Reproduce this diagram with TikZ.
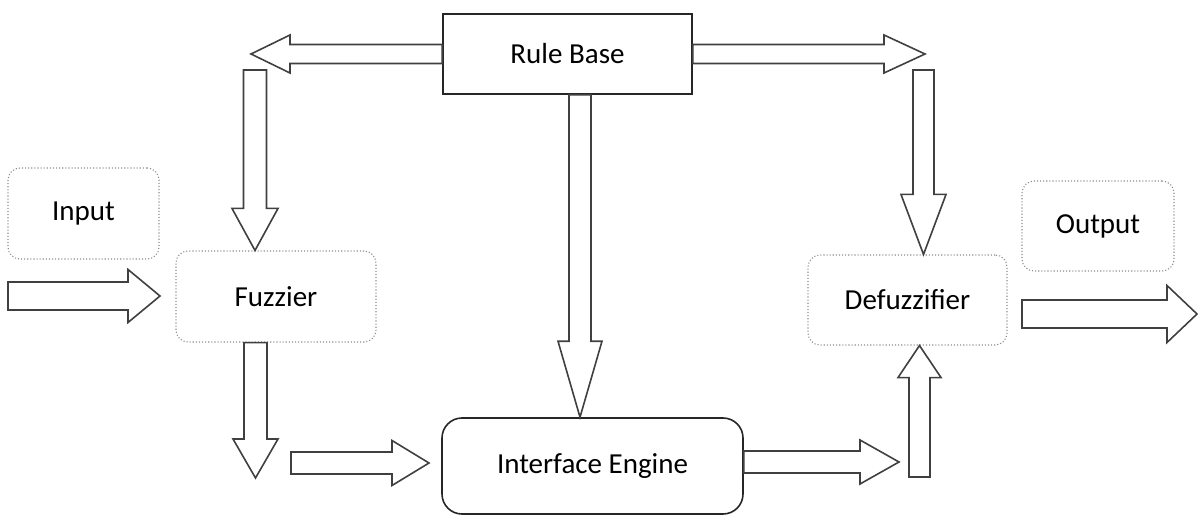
\documentclass[tikz,border=0pt]{standalone}
\usepackage{fontspec}
\setmainfont{Carlito}
\usetikzlibrary{calc}

\tikzset{
	rulebox/.style={draw=black!85, line width=1.6pt, rectangle, inner sep=0pt},
	softbox/.style={draw=black!45, dotted, line width=1.1pt, rounded corners=12pt, inner sep=0pt},
	enginebox/.style={draw=black!85, line width=1.6pt, rounded corners=20pt, inner sep=0pt},
	blockarrow/.style={draw=black!75, line width=1.6pt, line join=miter, fill=white}
}

% hollow block arrow: from, tip, shaft half width, head half width, head length
\newcommand{\hollowarrow}[5]{%
	\coordinate (ha) at ($(#2)!#5!(#1)$);
	\draw[blockarrow] ($(#1)!#3!90:(#2)$) -- ($(ha)!#3!90:(#2)$)
		-- ($(ha)!#4!90:(#2)$) -- (#2) -- ($(ha)!#4!-90:(#2)$)
		-- ($(ha)!#3!-90:(#2)$) -- ($(#1)!#3!-90:(#2)$) -- cycle;
}

\begin{document}
\begin{tikzpicture}[x=1pt, y=-1pt, font=\fontsize{29}{34}\selectfont]
	\useasboundingbox (0,0) rectangle (1198,518);

	\node[rulebox, minimum width=249pt, minimum height=80pt] (rulebase) at (567.5,54)
		{Rule Base};
	\node[softbox, minimum width=151pt, minimum height=91pt] (input)   at (83.5,213.5)
		{Input};
	\node[softbox, minimum width=200pt, minimum height=91pt] (fuzzier) at (276,296.5)
		{Fuzzier};
	\node[enginebox, minimum width=301pt, minimum height=96pt] (engine) at (592.5,466)
		{Interface Engine};
	\node[softbox, minimum width=199pt, minimum height=90pt] (defuzz)  at (907.5,300)
		{Defuzzifier};
	\node[softbox, minimum width=152pt, minimum height=90pt] (output)  at (1098,226)
		{Output};

	\coordinate (leftTip)    at (251,54);
	\coordinate (rightTip)   at (925,54);
	\coordinate (leftTop)    at (255,70);
	\coordinate (rightTop)   at (923.5,70);
	\coordinate (fuzzTip)    at (255.5,478);
	\coordinate (engTail)    at (291,463);
	\coordinate (engTip)     at (429,463);
	\coordinate (outTip)     at (899,462);
	\coordinate (upTail)     at (919.5,477);
	\coordinate (inTail)     at (8,296);
	\coordinate (inTip)      at (160,296);
	\coordinate (resTail)    at (1022,314);
	\coordinate (resTip)     at (1197,314);

	\hollowarrow{rulebase.west}{leftTip}{9.5pt}{19pt}{39pt}
	\hollowarrow{rulebase.east}{rightTip}{9.5pt}{19pt}{41pt}
	\hollowarrow{leftTop}{$(fuzzier.north)+(-21,0)$}{11.5pt}{23pt}{42pt}
	\hollowarrow{$(fuzzier.south)+(-20.5,0)$}{fuzzTip}{11.5pt}{22.5pt}{39pt}
	\hollowarrow{engTail}{engTip}{11pt}{22.5pt}{37pt}
	\hollowarrow{$(rulebase.south)+(12.5,0)$}{$(engine.north)+(-12.5,0)$}{11pt}{22pt}{76pt}
	\hollowarrow{$(engine.east)+(0,-4)$}{outTip}{11pt}{22pt}{39pt}
	\hollowarrow{rightTop}{$(defuzz.north)+(16,0)$}{10.5pt}{22.5pt}{60pt}
	\hollowarrow{upTail}{$(defuzz.south)+(12,0)$}{10.5pt}{21.5pt}{32pt}
	\hollowarrow{inTail}{inTip}{14pt}{26.5pt}{32pt}
	\hollowarrow{resTail}{resTip}{14pt}{28.5pt}{30pt}
\end{tikzpicture}
\end{document}
